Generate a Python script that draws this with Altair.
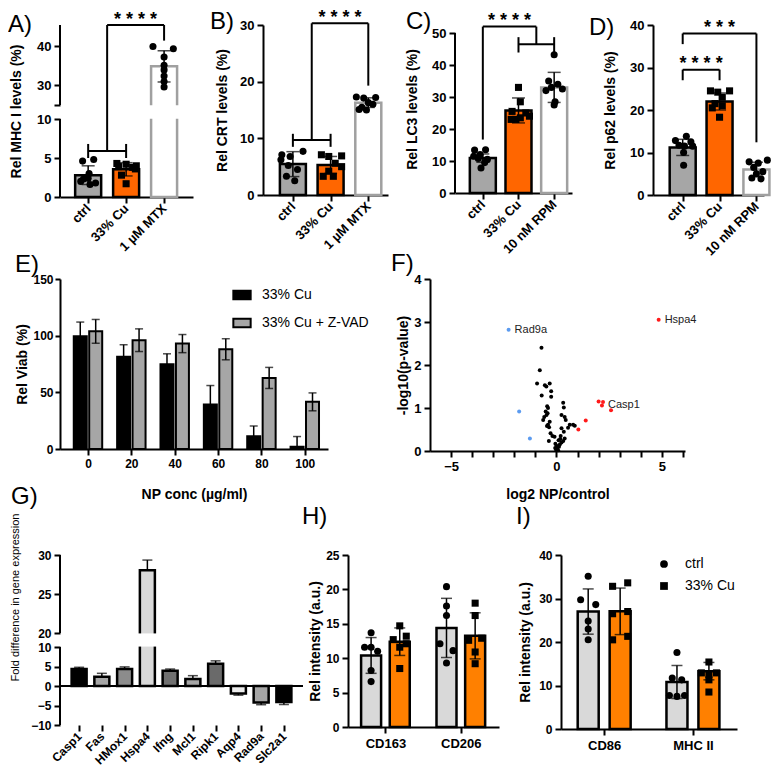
import altair as alt
import pandas as pd

FONT = "Liberation Sans"

# ---------------- data ----------------
# A) MHC I
A_cats = ["ctrl", "33% Cu", "1 µM MTX"]
A_mean = [2.8, 3.55, 34.9]
A_sd = [1.2, 0.85, 4.0]
A_pts = [[4.6, 4.8, 3.0, 2.4, 2.0, 1.6, 1.8, 2.3],
         [4.3, 4.2, 4.0, 3.9, 3.8, 3.6, 2.8, 1.7],
         [40.0, 39.4, 37.3, 35.2, 34.0, 32.4, 31.0, 29.6]]
A_jit = [[-6, 6, 1, 0, -8, 2, 8, -5], [-10, 0, 11, -8, 7, 10, -5, 0], [-12, 10, 0, 0, 0, 0, 0, 0]]

# B) CRT
B_cats = ["ctrl", "33% Cu", "1 µM MTX"]
B_mean = [5.45, 5.3, 16.3]
B_sd = [2.2, 1.5, 0.85]
B_pts = [[7.1, 6.8, 7.7, 5.2, 4.5, 3.3, 2.5, 6.2],
         [7.1, 6.8, 6.9, 5.6, 5.0, 3.3, 3.3, 4.2],
         [17.3, 17.1, 17.2, 16.3, 16.0, 15.5, 15.0, 15.1]]
B_jit = [[-12, -3, 11, -5, 5, -7, 2, -13], [-10, -2, 12, 5, 12, -8, 3, -2], [-13, -5, 8, 0, 5, -7, -2, -10]]

# C) LC3
C_cats = ["ctrl", "33% Cu", "10 nM RPM"]
C_mean = [10.9, 25.8, 33.0]
C_sd = [1.3, 3.9, 4.7]
C_pts = [[13.4, 13.5, 12.0, 11.5, 10.5, 10.8, 9.5, 7.8],
         [33.0, 28.5, 25.5, 25.0, 23.5, 23.0, 24.0, 23.0],
         [43.2, 35.0, 34.0, 33.0, 32.5, 32.0, 28.5, 27.5]]
C_jit = [[-9, 3, -3, -10, 5, -5, 2, -2], [0, 2, -7, 8, 2, -8, 12, -3], [0, -6, 4, -3, 9, -9, 1, 0]]

# D) p62
D_cats = ["ctrl", "33% Cu", "10 nM RPM"]
D_mean = [11.2, 22.0, 6.0]
D_sd = [1.9, 2.0, 1.7]
D_pts = [[13.8, 12.8, 12.5, 11.7, 11.5, 11.5, 10.0, 7.0],
         [24.5, 24.2, 24.5, 23.0, 21.5, 21.0, 20.5, 18.3],
         [8.2, 7.8, 7.5, 6.5, 5.5, 5.0, 4.0, 3.8]]
D_jit = [[4, -8, 9, -4, 2, 11, 1, 1], [-10, -2, 11, 3, -5, 3, -8, 0], [12, -8, 2, -3, 7, 0, -5, 5]]

# E) viability
E_conc = ["0", "20", "40", "60", "80", "100"]
E_series = ["33% Cu", "33% Cu + Z-VAD"]
E_cu = [99.5, 81.5, 74.8, 39.3, 11.3, 2.0]
E_cu_sd = [12.5, 10.5, 9.2, 16.7, 9.0, 9.0]
E_zvad = [103.8, 96.0, 93.0, 88.0, 62.7, 41.6]
E_zvad_sd = [10.5, 10.0, 8.0, 9.3, 9.3, 7.9]

# F) volcano
F_black_x = [-0.71, -0.79, -0.92, -0.55, -0.48, -0.32, -0.25, -0.70, -0.25, -0.44, -0.40, -0.51,
             -0.47, -0.58, -0.63, -0.42, -0.32, -0.40, -0.35, -0.45, -0.28, -0.19, -0.09, -0.36,
             -0.05, 0.00, 0.03, 0.08, -0.06, 0.16, 0.24, 0.32, 0.39, 0.20, 0.35, 0.24, 0.55, 0.63,
             0.79, 0.87, 0.44, 0.39, 0.24, 0.35, 0.32, 0.10, 0.12, -0.02, 0.18]
F_black_y = [2.40, 1.88, 1.57, 1.53, 1.50, 1.57, 1.39, 1.29, 1.26, 1.04, 1.00, 0.92,
             0.84, 0.79, 0.72, 0.88, 0.68, 0.61, 0.55, 0.58, 0.41, 0.35, 0.33, 0.23,
             0.17, 0.12, 0.06, 0.02, 0.07, 0.15, 0.20, 0.23, 0.29, 0.35, 0.45, 0.53, 0.54, 0.61,
             0.61, 0.59, 0.72, 0.79, 0.84, 1.01, 1.12, 0.25, 0.10, 0.03, 0.28]
F_red_x = [4.85, 2.00, 2.21, 2.16, 2.59, 1.39, 1.04]
F_red_y = [3.05, 1.15, 1.14, 1.06, 0.95, 0.71, 0.50]
F_blue_x = [-2.27, -1.77, -1.26]
F_blue_y = [2.82, 0.92, 0.29]
F_labels = ["Hspa4", "Rad9a", "Casp1"]
F_label_x = [4.85, -2.27, 2.16]
F_label_y = [3.05, 2.82, 1.06]

# G) qPCR
G_genes = ["Casp1", "Fas", "HMox1", "Hspa4", "Ifng", "Mcl1", "Ripk1", "Aqp4", "Rad9a", "Slc2a1"]
G_mean = [4.35, 2.4, 4.35, 28.05, 3.9, 1.8, 5.7, -1.9, -4.25, -4.1]
G_err = [0.45, 0.85, 0.55, 1.3, 0.45, 0.85, 0.75, 0.45, 0.55, 0.65]
G_colors = ["#000000", "#a6a6a6", "#8c8c8c", "#d9d9d9", "#707070",
            "#a6a6a6", "#6a6a6a", "#ececec", "#a6a6a6", "#000000"]

# H) CD163 / CD206
H_groups = ["CD163", "CD206"]
H_ctrl_mean = [10.4, 14.4]
H_ctrl_sd = [2.6, 4.3]
H_cu_mean = [12.4, 13.25]
H_cu_sd = [2.0, 3.35]
H_ctrl_pts = [[13.7, 11.6, 11.6, 11.0, 8.2, 6.6], [20.4, 17.6, 16.2, 12.1, 11.1, 9.3]]
H_cu_pts = [[14.7, 12.7, 13.2, 11.6, 12.1, 8.5], [18.0, 16.2, 12.6, 12.9, 10.9, 9.2]]
H_ctrl_jit = [[0, -7, 0, 7, 0, 0], [0, 0, 0, -7, 7, 0]]
H_cu_jit = [[0, -7, 7, 0, 7, 0], [0, 0, -7, 7, 0, 0]]

# I) CD86 / MHC II
I_groups = ["CD86", "MHC II"]
I_series = ["ctrl", "33% Cu"]
I_ctrl_mean = [27.0, 10.8]
I_ctrl_sd = [5.2, 3.8]
I_cu_mean = [27.05, 13.3]
I_cu_sd = [5.35, 2.0]
I_ctrl_pts = [[35.1, 29.7, 28.6, 24.8, 23.0, 20.5], [17.6, 11.7, 11.3, 7.7, 7.5, 7.7]]
I_cu_pts = [[32.8, 33.6, 26.5, 27.0, 20.5, 21.3], [15.4, 12.9, 12.9, 11.3, 8.5, 12.5]]
I_ctrl_jit = [[0, -8, 8, 0, 0, 0], [0, -5, 5, -8, 0, 8]]
I_cu_jit = [[-8, 8, -8, 8, -8, 8], [0, -8, 8, 0, 0, 0]]

# ---------------- styles ----------------
GRAY = "#a6a6a6"
ORANGE = "#ff6600"
ORANGE2 = "#ff8000"
LGRAY = "#d9d9d9"
OUTLINE = "#a0a0a0"


def cat_axis(labels, angle=-45, size=13, pad=3, **kw):
    expr = "[" + ",".join("'" + s + "'" for s in labels) + "][datum.value]"
    args = dict(values=list(range(len(labels))), labelExpr=expr, title=None, labelAngle=angle,
                labelFontSize=size, labelPadding=pad, labelOverlap=False, labelFlush=False)
    if angle:
        args.update(labelAlign="right", labelBaseline="middle")
    else:
        args.update(labelAlign="center", labelBaseline="top")
    args.update(kw)
    return alt.Axis(**args)


def encs(xscale, xaxis, yscale, yaxis):
    def X(f="x"):
        return alt.X(f + ":Q", scale=xscale, axis=xaxis)

    def Y(f):
        return alt.Y(f + ":Q", scale=yscale, axis=yaxis)
    return X, Y


def letter(t, lx, ly):
    return alt.Chart(pd.DataFrame({"t": [t]})).mark_text(
        font=FONT, fontSize=24, align="left", baseline="top", color="black"
    ).encode(text="t:N", x=alt.value(lx), y=alt.value(ly))


def brackets(X, Y, segs):
    df = pd.DataFrame(segs, columns=["x", "x2", "y", "y2"])
    return alt.Chart(df).mark_rule(color="black", strokeWidth=2).encode(
        x=X(), x2="x2:Q", y=Y("y"), y2="y2:Q")


def stars(X, Y, items, size=18):
    df = pd.DataFrame(items, columns=["x", "y", "t"])
    return alt.Chart(df).mark_text(font=FONT, fontSize=size, fontWeight="bold", baseline="alphabetic",
                                   align="center", color="black").encode(
        x=X(), y=Y("y"), text="t:N")


def dot_bar_layers(X, Y, xs, means, sds, fills, strokes, pts, jits, shapes, unit,
                   bar_px, cap_px, pt_size, bar_sw=2.5, extra_after_bars=None):
    n = len(xs)
    bars = pd.DataFrame({"x": xs, "mean": means, "zero": [0] * n, "fill": fills, "stroke": strokes})
    lo = [m - s for m, s in zip(means, sds)]
    hi = [m + s for m, s in zip(means, sds)]
    err = pd.DataFrame({"x": xs, "lo": lo, "hi": hi})
    caps = pd.DataFrame({"x": list(xs) * 2, "cy": lo + hi})
    rows = []
    for i in range(n):
        for v, j in zip(pts[i], jits[i]):
            rows.append({"x": xs[i] + j / unit, "v": v, "shape": shapes[i]})
    pdf = pd.DataFrame(rows)
    layers = [alt.Chart(bars).mark_bar(size=bar_px, strokeWidth=bar_sw).encode(
        x=X(), y=Y("mean"), y2="zero:Q",
        fill=alt.Fill("fill:N", scale=None), stroke=alt.Stroke("stroke:N", scale=None))]
    if extra_after_bars is not None:
        layers += extra_after_bars
    layers += [
        alt.Chart(pdf).mark_point(filled=True, size=pt_size, opacity=1, color="black").encode(
            x=X(), y=Y("v"), shape=alt.Shape("shape:N", scale=None)),
        alt.Chart(err).mark_rule(color="black", strokeWidth=1.5).encode(x=X(), y=Y("lo"), y2="hi:Q"),
        alt.Chart(caps).mark_tick(orient="horizontal", size=cap_px, thickness=1.5, color="black").encode(
            x=X(), y=Y("cy")),
    ]
    return layers


SH3 = ["circle", "square", "circle"]

# ---------------- Panel A ----------------
A_H = 172
X, Y = encs(alt.Scale(domain=[-0.61, 2.63], nice=False, zero=False), cat_axis(A_cats),
            alt.Scale(domain=[0, 10, 25, 45.5], range=[A_H, 94, 80, 0], zero=False, nice=False),
            alt.Axis(values=[0, 5, 10, 25, 30, 40], labelExpr="datum.value == 25 ? '' : datum.label",
                     domain=False, title="Rel MHC I levels (%)", titlePadding=13))
gapA = alt.Chart(pd.DataFrame({"x": [2], "y": [10.3], "y2": [24.7]})).mark_bar(
    size=34, color="white", strokeWidth=0).encode(x=X(), y=Y("y"), y2="y2:Q")
segA = alt.Chart(pd.DataFrame({"y": [0, 25], "y2": [10, 45.5]})).mark_rule(
    color="black", strokeWidth=2).encode(x=alt.value(0), y=Y("y"), y2="y2:Q")
panelA = alt.layer(
    *dot_bar_layers(X, Y, [0, 1, 2], A_mean, A_sd, [GRAY, ORANGE, "white"], ["black", "black", OUTLINE],
                    A_pts, A_jit, SH3, 41, 26, 13, 50, extra_after_bars=[gapA]),
    segA,
    brackets(X, Y, [(0, 1, 5.9, 5.9), (0, 0, 5.0, 6.8), (1, 1, 5.0, 6.8), (0.5, 0.5, 5.9, 45.5),
                    (0.5, 2, 45.5, 45.5), (2, 2, 41.5, 45.5)]),
    stars(X, Y, [(1.25, 45.6, "* * * *")]),
    letter("A)", -52, -12),
).properties(width=133, height=A_H)

# ---------------- Panel B ----------------
X, Y = encs(alt.Scale(domain=[-0.66, 2.39], nice=False, zero=False), cat_axis(B_cats),
            alt.Scale(domain=[0, 30], nice=False, zero=True),
            alt.Axis(values=[0, 10, 20, 30], title="Rel CRT levels (%)", titlePadding=10))
panelB = alt.layer(
    *dot_bar_layers(X, Y, [0, 1, 2], B_mean, B_sd, [GRAY, ORANGE, "white"], ["black", "black", OUTLINE],
                    B_pts, B_jit, SH3, 41, 26, 13, 50),
    brackets(X, Y, [(0, 1, 9.7, 9.7), (0, 0, 8.5, 10.8), (1, 1, 8.5, 10.8), (0.5, 0.5, 9.7, 30.3),
                    (0.5, 2, 30.3, 30.3), (2, 2, 19.3, 30.3)]),
    stars(X, Y, [(1.25, 30.4, "* * * *")]),
    letter("B)", -53, -15),
).properties(width=125, height=170)

# ---------------- Panel C ----------------
C_H = 168
X, Y = encs(alt.Scale(domain=[-0.64, 2.36], nice=False, zero=False), cat_axis(C_cats),
            alt.Scale(domain=[0, 52.5], nice=False, zero=True),
            alt.Axis(values=[0, 10, 20, 30, 40, 50], domain=False, title="Rel LC3 levels (%)", titlePadding=12))
segC = alt.Chart(pd.DataFrame({"y": [0], "y2": [50]})).mark_rule(color="black", strokeWidth=2).encode(
    x=alt.value(0), y=Y("y"), y2="y2:Q")
panelC = alt.layer(
    *dot_bar_layers(X, Y, [0, 1, 2], C_mean, C_sd, [GRAY, ORANGE, "white"], ["black", "black", OUTLINE],
                    C_pts, C_jit, SH3, 39, 26, 13, 50),
    segC,
    brackets(X, Y, [(1, 2, 46.5, 46.5), (1, 1, 43.9, 48.7), (2, 2, 43.9, 48.7), (1.5, 1.5, 46.5, 52),
                    (0, 1.5, 52, 52), (0, 0, 16.7, 52)]),
    stars(X, Y, [(0.75, 52.1, "* * * *")]),
    letter("C)", -49, -15),
).properties(width=117, height=C_H)

# ---------------- Panel D ----------------
X, Y = encs(alt.Scale(domain=[-0.67, 2.07], nice=False, zero=False), cat_axis(D_cats),
            alt.Scale(domain=[0, 40], nice=False, zero=True),
            alt.Axis(values=[0, 10, 20, 30, 40], title="Rel p62 levels (%)", titlePadding=12))
panelD = alt.layer(
    *dot_bar_layers(X, Y, [0, 1, 2], D_mean, D_sd, [GRAY, ORANGE, "white"], ["black", "black", OUTLINE],
                    D_pts, D_jit, SH3, 40.5, 26, 13, 50),
    brackets(X, Y, [(0, 2, 38, 38), (0, 0, 35.5, 38), (2, 2, 12.4, 38),
                    (0, 1, 29.5, 29.5), (0, 0, 27, 29.5), (1, 1, 27, 29.5)]),
    stars(X, Y, [(1, 38.1, "* * *"), (0.5, 29.6, "* * * *")]),
    letter("D)", -64, -9),
).properties(width=111, height=170)

# ---------------- Panel E ----------------
E_rows, E_caps = [], []
for i in range(len(E_conc)):
    E_rows.append({"x": i - 0.178, "mean": E_cu[i], "series": E_series[0], "zero": 0,
                   "lo": E_cu[i], "hi": E_cu[i] + E_cu_sd[i]})
    E_rows.append({"x": i + 0.178, "mean": E_zvad[i], "series": E_series[1], "zero": 0,
                   "lo": E_zvad[i] - E_zvad_sd[i], "hi": E_zvad[i] + E_zvad_sd[i]})
    E_caps += [{"x": i - 0.178, "cy": E_cu[i] + E_cu_sd[i]},
               {"x": i + 0.178, "cy": E_zvad[i] + E_zvad_sd[i]},
               {"x": i + 0.178, "cy": E_zvad[i] - E_zvad_sd[i]}]
E_df = pd.DataFrame(E_rows)
X, Y = encs(alt.Scale(domain=[-0.53, 5.42], nice=False, zero=False),
            cat_axis(E_conc, angle=0, size=12, title="NP conc (µg/ml)", titlePadding=18),
            alt.Scale(domain=[0, 150], nice=False, zero=True),
            alt.Axis(values=[0, 50, 100, 150], title="Rel Viab (%)", titlePadding=3, tickSize=5,
                     labelPadding=2, labelFontSize=12))
panelE = alt.layer(
    alt.Chart(E_df).mark_bar(size=13, stroke="black", strokeWidth=2).encode(
        x=X(), y=Y("mean"), y2="zero:Q",
        fill=alt.Fill("series:N", scale=alt.Scale(domain=E_series, range=["black", GRAY]),
                      legend=alt.Legend(title=None, orient="none", legendX=172, legendY=6,
                                        symbolType="M-1,-0.5H1V0.5H-1Z", symbolSize=300,
                                        symbolStrokeColor="black", symbolStrokeWidth=2,
                                        labelFontSize=14, labelFont=FONT, rowPadding=9, labelOffset=10))),
    alt.Chart(E_df).mark_rule(color="black", strokeWidth=1.5).encode(x=X(), y=Y("lo"), y2="hi:Q"),
    alt.Chart(pd.DataFrame(E_caps)).mark_tick(orient="horizontal", size=8, thickness=1.5, color="black").encode(
        x=X(), y=Y("cy")),
    letter("E)", -45, -26),
).properties(width=268, height=170)

# ---------------- Panel F ----------------
F_df = pd.DataFrame({
    "x": F_black_x + F_red_x + F_blue_x,
    "y": F_black_y + F_red_y + F_blue_y,
    "c": ["#000000"] * len(F_black_x) + ["#ff1a1a"] * len(F_red_x) + ["#5b9bf0"] * len(F_blue_x),
})
F_lab = pd.DataFrame({"x": F_label_x, "y": F_label_y, "t": F_labels})
fX = alt.X("x:Q", scale=alt.Scale(domain=[-6, 6.1], nice=False, zero=False),
           axis=alt.Axis(values=list(range(-5, 7)), labelExpr="datum.value % 5 == 0 ? datum.label : ''",
                         title="log2 NP/control", titlePadding=14, labelFlush=False))
fY = alt.Axis(values=[0, 1, 2, 3, 4], title="-log10(p-value)", titlePadding=3)
fYs = alt.Scale(domain=[0, 4], nice=False, zero=True)
panelF = alt.layer(
    alt.Chart(F_df).mark_circle(size=16, opacity=1).encode(
        x=fX, y=alt.Y("y:Q", scale=fYs, axis=fY), color=alt.Color("c:N", scale=None)),
    alt.Chart(F_lab).mark_text(font=FONT, fontSize=11, align="left", dx=6, color="#222222").encode(
        x=fX, y=alt.Y("y:Q", scale=fYs, axis=fY), text="t:N"),
    letter("F)", -39, -27),
).properties(width=255, height=172)

# ---------------- Panel G ----------------
G_H = 170
nG = len(G_genes)
X, Y = encs(alt.Scale(domain=[-0.62, 9.62], nice=False, zero=False),
            cat_axis(G_genes, size=12, domain=False, tickSize=6),
            alt.Scale(domain=[-10, 10, 20, 30], range=[G_H, 92, 78, 0], zero=False, nice=False),
            alt.Axis(values=[-10, -5, 0, 5, 10, 20, 25, 30], domain=False, labelFontSize=12,
                     title="Fold difference in gene expression", titleFontWeight="normal",
                     titleFontSize=11, titlePadding=10, titleY=42))
G_df = pd.DataFrame({"x": list(range(nG)), "mean": G_mean, "zero": [0] * nG, "fill": G_colors,
                     "tip": [m + (e if m > 0 else -e) for m, e in zip(G_mean, G_err)]})
panelG = alt.layer(
    alt.Chart(G_df).mark_bar(size=15, stroke="black", strokeWidth=2.5).encode(
        x=X(), y=Y("mean"), y2="zero:Q", fill=alt.Fill("fill:N", scale=None)),
    alt.Chart(pd.DataFrame({"x": [3], "y": [10.3], "y2": [19.7]})).mark_bar(
        size=24, color="white", strokeWidth=0).encode(x=X(), y=Y("y"), y2="y2:Q"),
    alt.Chart(G_df).mark_rule(color="black", strokeWidth=1.5).encode(x=X(), y=Y("mean"), y2="tip:Q"),
    alt.Chart(G_df).mark_tick(orient="horizontal", size=10, thickness=1.5, color="black").encode(
        x=X(), y=Y("tip")),
    alt.Chart(pd.DataFrame({"y": [0]})).mark_rule(color="black", strokeWidth=2).encode(y=Y("y")),
    alt.Chart(pd.DataFrame({"y": [-10, 20], "y2": [10, 30]})).mark_rule(
        color="black", strokeWidth=2).encode(x=alt.value(0), y=Y("y"), y2="y2:Q"),
    letter("G)", -49, -70),
).properties(width=243, height=G_H)


# ---------------- Panel H ----------------
def two_group_layers(X, Y, c_mean, c_sd, u_mean, u_sd, c_pts, u_pts, c_jit, u_jit, unit, off,
                     bar_px, c_fill, u_fill):
    n = len(c_mean)
    xs = []
    means, sds, fills, pts, jits, shapes = [], [], [], [], [], []
    for g in range(n):
        xs += [g - off, g + off]
        means += [c_mean[g], u_mean[g]]
        sds += [c_sd[g], u_sd[g]]
        fills += [c_fill, u_fill]
        pts += [c_pts[g], u_pts[g]]
        jits += [c_jit[g], u_jit[g]]
        shapes += ["circle", "square"]
    return dot_bar_layers(X, Y, xs, means, sds, fills, ["black"] * len(xs), pts, jits, shapes,
                          unit, bar_px, 11, 50)


X, Y = encs(alt.Scale(domain=[-0.43, 1.44], nice=False, zero=False),
            cat_axis(H_groups, angle=0, size=13, pad=4),
            alt.Scale(domain=[0, 25], nice=False, zero=True),
            alt.Axis(values=[0, 5, 10, 15, 20, 25], title="Rel intensity (a.u.)", titlePadding=3, labelFontSize=12))
panelH = alt.layer(
    *two_group_layers(X, Y, H_ctrl_mean, H_ctrl_sd, H_cu_mean, H_cu_sd, H_ctrl_pts, H_cu_pts,
                      H_ctrl_jit, H_cu_jit, 81, 0.19, 20, LGRAY, ORANGE2),
    letter("H)", -46, -50),
).properties(width=151, height=172)

# ---------------- Panel I ----------------
X, Y = encs(alt.Scale(domain=[-0.43, 1.44], nice=False, zero=False),
            cat_axis(I_groups, angle=0, size=13, pad=4),
            alt.Scale(domain=[0, 40], nice=False, zero=True),
            alt.Axis(values=[0, 10, 20, 30, 40], title="Rel intensity (a.u.)", titlePadding=6, labelFontSize=12))
I_leg = pd.DataFrame({"grp_i": I_series, "x": [0, 0], "v": [0, 0]})
panelI = alt.layer(
    *two_group_layers(X, Y, I_ctrl_mean, I_ctrl_sd, I_cu_mean, I_cu_sd, I_ctrl_pts, I_cu_pts,
                      I_ctrl_jit, I_cu_jit, 94, 0.18, 21, LGRAY, ORANGE2),
    alt.Chart(I_leg).mark_point(filled=True, size=50, opacity=0, color="black").encode(
        x=X(), y=Y("v"),
        shape=alt.Shape("grp_i:N", scale=alt.Scale(domain=I_series, range=["circle", "square"]),
                        legend=alt.Legend(title=None, orient="none", legendX=96, legendY=2,
                                          symbolFillColor="black", symbolStrokeColor="black",
                                          symbolOpacity=1, symbolSize=60, labelFontSize=14,
                                          labelFont=FONT, rowPadding=8, labelOffset=14))),
    letter("I)", -45, -50),
).properties(width=176, height=174)

row1 = alt.hconcat(panelA, panelB, panelC, panelD, spacing=17)
row2 = alt.hconcat(panelE, panelF, spacing=22).resolve_scale(fill="independent").resolve_legend(fill="independent")
row3 = alt.hconcat(panelG, alt.hconcat(panelH, panelI, spacing=17).resolve_scale(shape="independent"),
                   spacing=-2).resolve_scale(shape="independent").resolve_legend(shape="independent")

chart = alt.vconcat(
    row1,
    alt.vconcat(row2, row3, spacing=-16).resolve_scale(fill="independent", shape="independent"),
    spacing=-6,
).resolve_scale(fill="independent", shape="independent").resolve_legend(
    fill="independent", shape="independent"
).properties(
    padding={"left": 0, "top": 0, "right": 0, "bottom": 0}
).configure_axis(
    labelFont=FONT, labelFontSize=13, labelFontWeight="bold", labelColor="black",
    titleFont=FONT, titleFontSize=14, titleFontWeight="bold", titleColor="black",
    domainColor="black", domainWidth=2, tickColor="black", tickWidth=2, tickSize=6,
    labelPadding=3, grid=False
).configure_view(stroke=None).configure_legend(labelFont=FONT, labelColor="black")

chart.save("out.html", embed_options={"renderer": "svg", "actions": False})
